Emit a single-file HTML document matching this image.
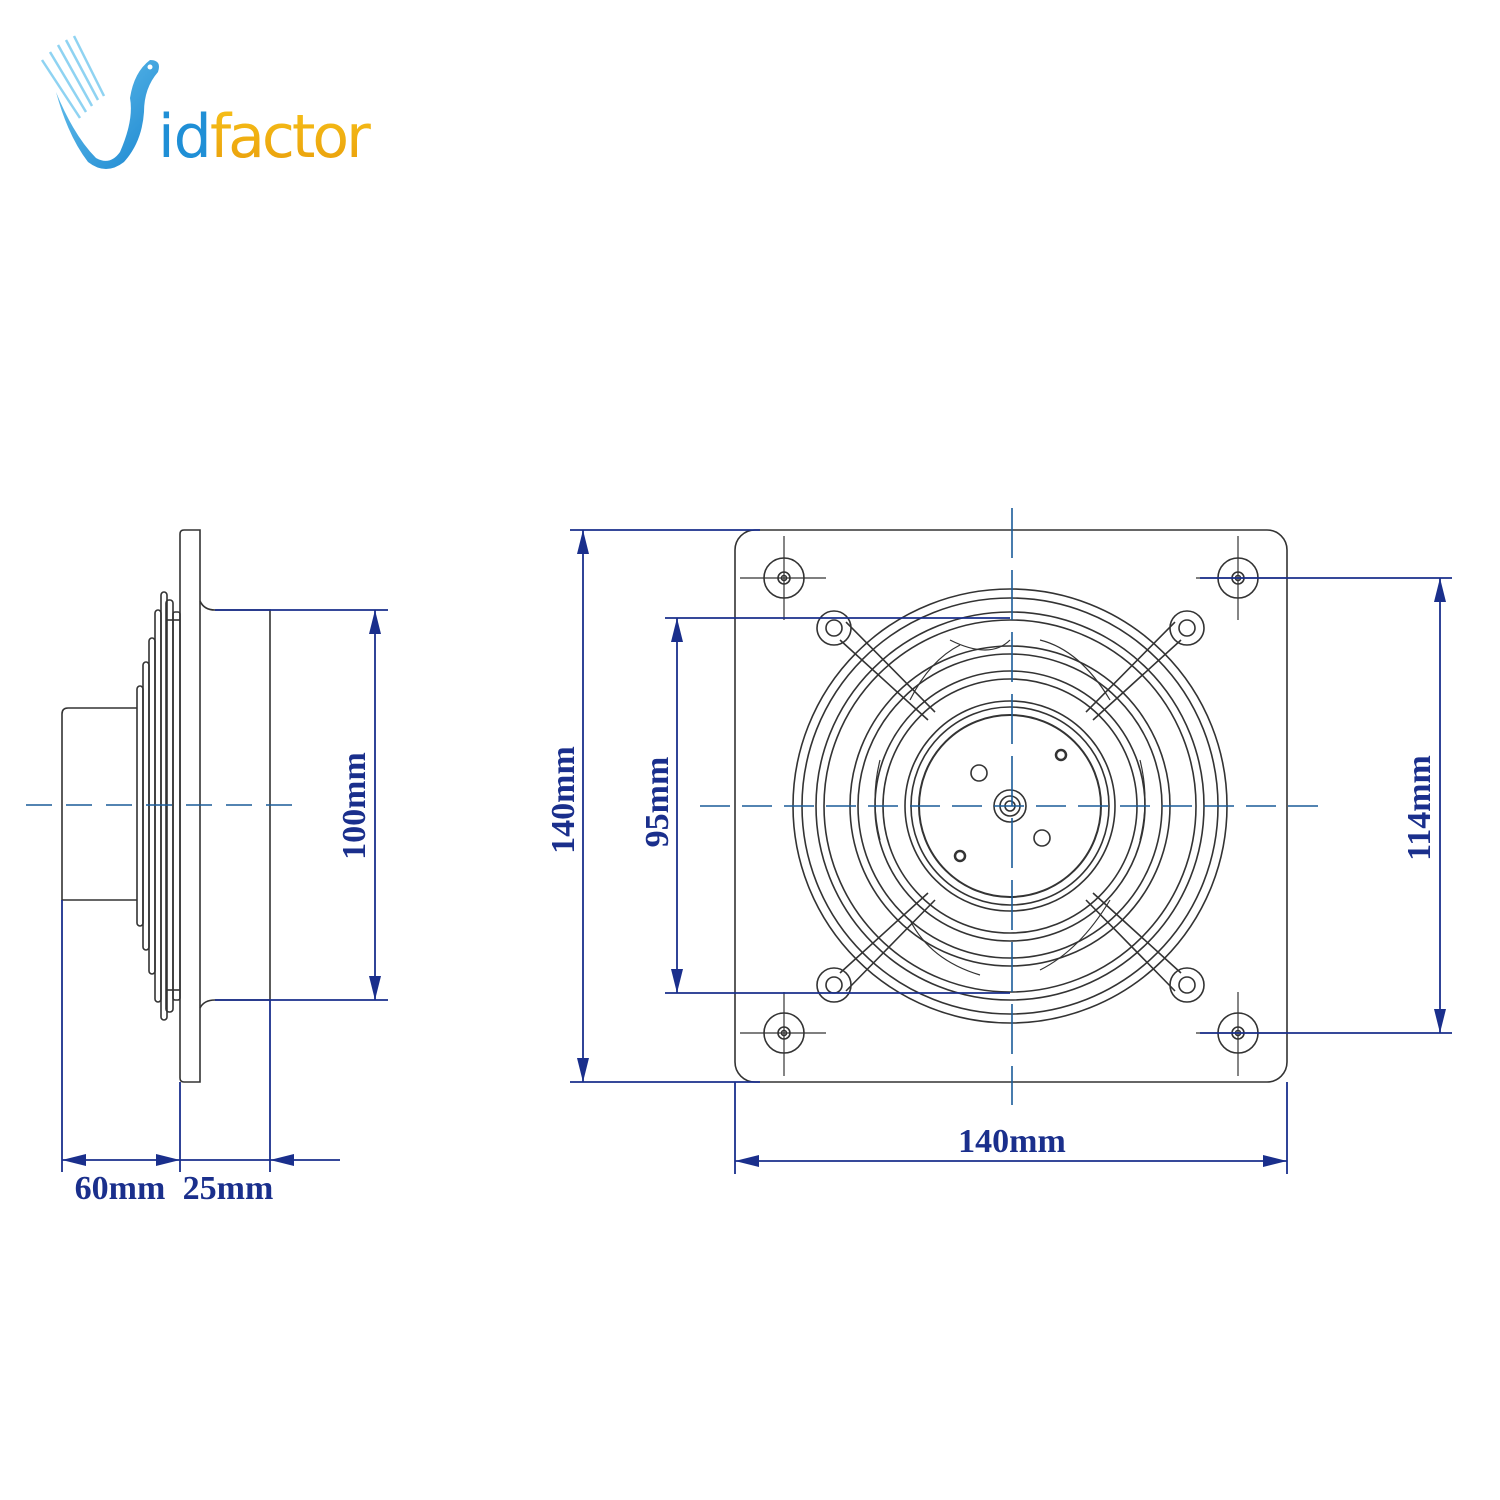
<!DOCTYPE html>
<html><head><meta charset="utf-8"><style>
html,body{margin:0;padding:0;background:#fff;width:1500px;height:1500px;overflow:hidden}
svg{display:block}
</style></head><body>
<svg width="1500" height="1500" viewBox="0 0 1500 1500" xmlns="http://www.w3.org/2000/svg">
<defs>
<linearGradient id="bl" x1="0" y1="0" x2="1" y2="1"><stop offset="0" stop-color="#6cc5ef"/><stop offset="1" stop-color="#1a86d0"/></linearGradient>
<linearGradient id="or" x1="0" y1="0" x2="0" y2="1"><stop offset="0" stop-color="#f7c21a"/><stop offset="1" stop-color="#e99d0a"/></linearGradient>
<marker id="a" viewBox="0 0 24 12" refX="24" refY="6" markerWidth="24" markerHeight="12" markerUnits="userSpaceOnUse" orient="auto"><path d="M0,0L24,6L0,12z" fill="#1a2f8c"/></marker>
<marker id="s" viewBox="0 0 24 12" refX="24" refY="6" markerWidth="24" markerHeight="12" markerUnits="userSpaceOnUse" orient="auto-start-reverse"><path d="M0,0L24,6L0,12z" fill="#1a2f8c"/></marker>
</defs>
<!-- logo -->
<g>
<g stroke="#8fd3f2" stroke-width="2.5">
<line x1="42" y1="60" x2="80" y2="118"/><line x1="50" y1="52" x2="86" y2="112"/><line x1="58" y1="45" x2="92" y2="106"/><line x1="66" y1="40" x2="98" y2="100"/><line x1="74" y1="36" x2="104" y2="96"/>
</g>
<path d="M56,92 Q74,136 96,158 Q110,166 120,152 Q134,120 130,98 Q134,72 150,60 Q162,60 158,72 Q144,88 144,112 Q142,142 124,162 Q106,176 88,162 Q68,136 56,92z" fill="url(#bl)"/>
<circle cx="150" cy="67" r="2.5" fill="#fff"/>
<text x="158" y="157" font-family="'DejaVu Sans','Liberation Sans',sans-serif" font-size="60" fill="#1f8fd6" letter-spacing="-1">id</text>
<text x="210" y="157" font-family="'DejaVu Sans','Liberation Sans',sans-serif" font-size="60" fill="url(#or)" letter-spacing="-3">factor</text>
</g>

<g fill="none" stroke="#333" stroke-width="1.6">
<!-- side view -->
<path d="M184,530 H200 V1082 H184 Q180,1082 180,1078 V534 Q180,530 184,530z"/>
<path d="M200,601 Q204,610 215,610 H270 V1000 H215 Q204,1000 200,1008"/>
<path d="M137,708 H68 Q62,708 62,714 V900 H137"/>
<rect x="137" y="686" width="6" height="240" rx="3"/>
<rect x="143" y="662" width="6" height="288" rx="3"/>
<rect x="149" y="638" width="6" height="336" rx="3"/>
<rect x="155" y="610" width="6" height="392" rx="3"/>
<rect x="161" y="592" width="6" height="428" rx="3"/>
<rect x="166" y="600" width="7" height="412" rx="3"/>
<rect x="173" y="612" width="7" height="388" rx="2"/>
<line x1="166" y1="620" x2="180" y2="620"/><line x1="166" y1="990" x2="180" y2="990"/>
<!-- front plate -->
<rect x="735" y="530" width="552" height="552" rx="20"/>
<g>
<circle cx="784" cy="578" r="20"/><circle cx="784" cy="578" r="6"/><circle cx="784" cy="578" r="2.5"/>
<circle cx="1238" cy="578" r="20"/><circle cx="1238" cy="578" r="6"/><circle cx="1238" cy="578" r="2.5"/>
<circle cx="784" cy="1033" r="20"/><circle cx="784" cy="1033" r="6"/><circle cx="784" cy="1033" r="2.5"/>
<circle cx="1238" cy="1033" r="20"/><circle cx="1238" cy="1033" r="6"/><circle cx="1238" cy="1033" r="2.5"/>
</g>
<g stroke-width="1.2">
<line x1="740" y1="578" x2="826" y2="578"/><line x1="784" y1="536" x2="784" y2="620"/>
<line x1="1196" y1="578" x2="1287" y2="578"/><line x1="1238" y1="536" x2="1238" y2="620"/>
<line x1="740" y1="1033" x2="826" y2="1033"/><line x1="784" y1="992" x2="784" y2="1076"/>
<line x1="1196" y1="1033" x2="1287" y2="1033"/><line x1="1238" y1="992" x2="1238" y2="1076"/>
</g>
<!-- lugs and arms -->
<g>
<circle cx="834" cy="628" r="17"/><circle cx="834" cy="628" r="8"/>
<circle cx="1187" cy="628" r="17"/><circle cx="1187" cy="628" r="8"/>
<circle cx="834" cy="985" r="17"/><circle cx="834" cy="985" r="8"/>
<circle cx="1187" cy="985" r="17"/><circle cx="1187" cy="985" r="8"/>
<path d="M846,622 L935,712 M840,640 L928,720"/>
<path d="M1175,622 L1086,712 M1181,640 L1093,720"/>
<path d="M846,991 L935,900 M840,973 L928,893"/>
<path d="M1175,991 L1086,900 M1181,973 L1093,893"/>
</g>
<!-- rings -->
<circle cx="1010" cy="806" r="217"/>
<circle cx="1010" cy="806" r="208"/>
<circle cx="1010" cy="806" r="194"/>
<circle cx="1010" cy="806" r="186"/>
<circle cx="1010" cy="806" r="160"/>
<circle cx="1010" cy="806" r="152"/>
<circle cx="1010" cy="806" r="135"/>
<circle cx="1010" cy="806" r="127"/>
<circle cx="1010" cy="806" r="105"/>
<circle cx="1010" cy="806" r="99"/>
<circle cx="1010" cy="806" r="91" stroke-width="2"/>
<g stroke-width="1.2">
<path d="M950,640 Q990,660 1010,640"/><path d="M1040,640 Q1080,650 1110,700"/><path d="M1140,760 Q1150,800 1140,840"/><path d="M1110,900 Q1080,950 1040,970"/><path d="M980,975 Q930,960 910,920"/><path d="M880,840 Q870,800 880,760"/><path d="M910,700 Q930,660 960,645"/>
</g>
<circle cx="1010" cy="806" r="16"/><circle cx="1010" cy="806" r="10"/><circle cx="1010" cy="806" r="5"/>
<circle cx="979" cy="773" r="8"/><circle cx="1042" cy="838" r="8"/>
<circle cx="1061" cy="755" r="5" stroke-width="2.5"/><circle cx="960" cy="856" r="5" stroke-width="2.5"/>
</g>

<!-- center lines -->
<g stroke="#1a5c99" stroke-width="1.6" fill="none">
<line x1="26" y1="805" x2="305" y2="805" stroke-dasharray="26,14"/>
<line x1="700" y1="806" x2="1325" y2="806" stroke-dasharray="30,12"/>
<line x1="1012" y1="508" x2="1012" y2="1105" stroke-dasharray="50,12"/>
</g>

<!-- dimensions -->
<g stroke="#1a2f8c" stroke-width="1.8" fill="none">
<line x1="215" y1="610" x2="388" y2="610"/><line x1="215" y1="1000" x2="388" y2="1000"/>
<line x1="375" y1="610" x2="375" y2="1000" marker-start="url(#s)" marker-end="url(#a)"/>
<line x1="62" y1="900" x2="62" y2="1172"/><line x1="180" y1="1082" x2="180" y2="1172"/><line x1="270" y1="1000" x2="270" y2="1172"/>
<line x1="62" y1="1160" x2="180" y2="1160" marker-start="url(#s)" marker-end="url(#a)"/>
<line x1="180" y1="1160" x2="270" y2="1160"/>
<line x1="340" y1="1160" x2="270" y2="1160" marker-end="url(#a)"/>
<line x1="570" y1="530" x2="760" y2="530"/><line x1="570" y1="1082" x2="760" y2="1082"/>
<line x1="583" y1="530" x2="583" y2="1082" marker-start="url(#s)" marker-end="url(#a)"/>
<line x1="665" y1="618" x2="1010" y2="618"/><line x1="665" y1="993" x2="1010" y2="993"/>
<line x1="677" y1="618" x2="677" y2="993" marker-start="url(#s)" marker-end="url(#a)"/>
<line x1="1200" y1="578" x2="1452" y2="578"/><line x1="1200" y1="1033" x2="1452" y2="1033"/>
<line x1="1440" y1="578" x2="1440" y2="1033" marker-start="url(#s)" marker-end="url(#a)"/>
<line x1="735" y1="1082" x2="735" y2="1174"/><line x1="1287" y1="1082" x2="1287" y2="1174"/>
<line x1="735" y1="1161" x2="1287" y2="1161" marker-start="url(#s)" marker-end="url(#a)"/>
</g>
<g font-family="'Liberation Serif',serif" font-size="34" fill="#1a2f8c" font-weight="bold">
<text x="120" y="1199" text-anchor="middle">60mm</text>
<text x="228" y="1199" text-anchor="middle">25mm</text>
<text x="1012" y="1152" text-anchor="middle">140mm</text>
<text transform="translate(365,806) rotate(-90)" text-anchor="middle">100mm</text>
<text transform="translate(574,800) rotate(-90)" text-anchor="middle">140mm</text>
<text transform="translate(668,802) rotate(-90)" text-anchor="middle">95mm</text>
<text transform="translate(1430,808) rotate(-90)" text-anchor="middle">114mm</text>
</g>
</svg>
</body></html>
